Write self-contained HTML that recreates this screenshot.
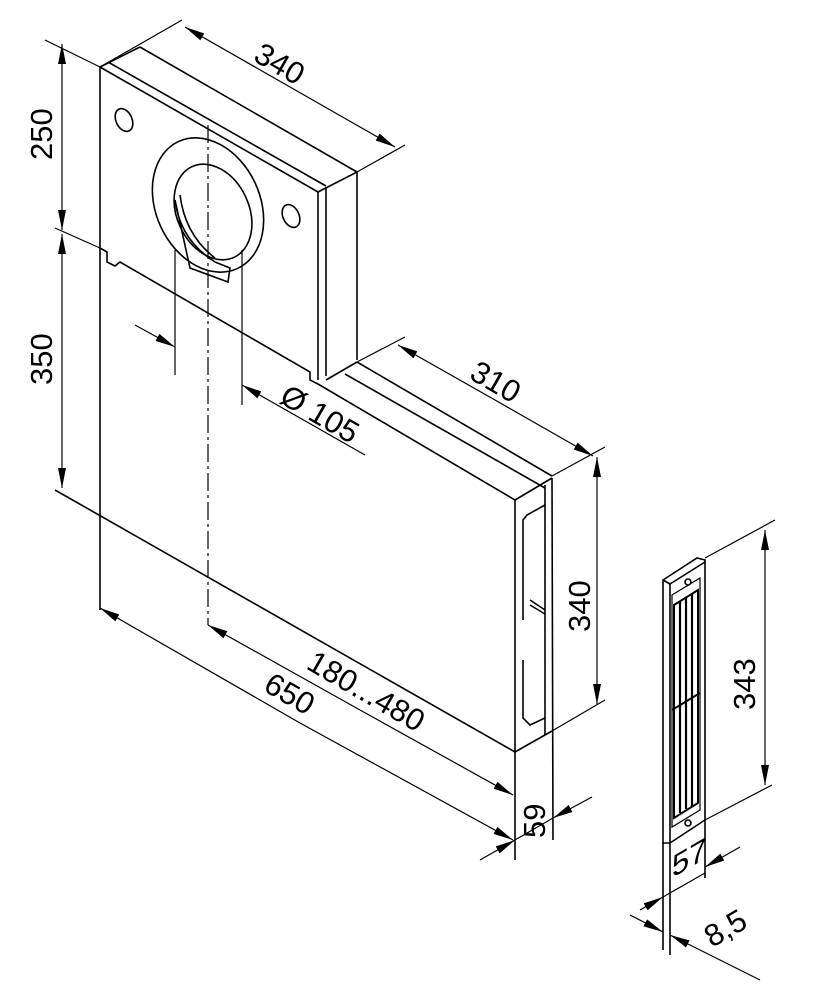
<!DOCTYPE html>
<html><head><meta charset="utf-8"><style>
html,body{margin:0;padding:0;background:#fff;}
svg{display:block;}
text{font-family:"Liberation Sans",sans-serif;font-size:31px;fill:#000;}
</style></head><body>
<svg width="830" height="1008" viewBox="0 0 830 1008" xmlns="http://www.w3.org/2000/svg">
<defs>
<marker id="a" viewBox="0 0 20 8" refX="20" refY="4" markerWidth="20" markerHeight="8" orient="auto" markerUnits="userSpaceOnUse"><path d="M0,0 L20,4 L0,8 Z" fill="#000"/></marker>
</defs>
<g stroke="#000" stroke-width="1.6" fill="none">
<line x1="100" y1="67" x2="100" y2="610"/>
<line x1="100" y1="67" x2="318" y2="192"/>
<line x1="108" y1="62" x2="326" y2="186"/>
<line x1="100" y1="67" x2="140" y2="47"/>
<line x1="140" y1="47" x2="357" y2="172"/>
<line x1="318" y1="192" x2="357" y2="172"/>
<line x1="318" y1="192" x2="318" y2="380"/>
<line x1="326" y1="187" x2="326" y2="376"/>
<line x1="357" y1="172" x2="357" y2="360"/>
<path d="M100,248 L107,252 L107,262 L115,266 L120,262 L310,372 L310,380 L318,384"/>
<line x1="318" y1="384" x2="515" y2="500"/>
<line x1="326" y1="380" x2="357" y2="362"/>
<line x1="345" y1="374" x2="545" y2="488"/>
<line x1="357" y1="362" x2="552" y2="476"/>
<line x1="515" y1="500" x2="552" y2="478"/>
<line x1="515" y1="500" x2="515" y2="860"/>
<line x1="552" y1="478" x2="553" y2="840"/>
<line x1="545" y1="485" x2="545" y2="735"/>
<line x1="515" y1="752" x2="552" y2="731"/>
<path d="M545,505 L527,515 L523,520 L523,620 M523,660 L523,718 L530,725 L545,718"/>
<path d="M530,600 L545,610 M530,605 L545,614"/>
<line x1="55" y1="490" x2="515" y2="752"/>
<ellipse cx="124" cy="120" rx="8" ry="12" transform="rotate(-25 124 120)"/>
<ellipse cx="291" cy="216" rx="8" ry="12" transform="rotate(-25 291 216)"/>
<ellipse cx="208" cy="205" rx="52" ry="70" transform="rotate(-25 208 205)"/>
<ellipse cx="213" cy="212" rx="36" ry="50" transform="rotate(-25 213 212)"/>
<path d="M175,200 Q180,240 215,262 L230,268 L228,282 L190,268 Z"/>
<path d="M180,195 Q185,235 215,258"/>
<line x1="208" y1="125" x2="208" y2="625" stroke-dasharray="18,4,3,4" stroke-width="1.2"/>
<line x1="175" y1="250" x2="175" y2="375" stroke-width="1.2"/>
<line x1="242" y1="250" x2="242" y2="405" stroke-width="1.2"/>
<line x1="135" y1="325" x2="175" y2="347" stroke-width="1.2" marker-end="url(#a)"/>
<line x1="365" y1="455" x2="242" y2="385" stroke-width="1.2" marker-end="url(#a)"/>
<g stroke-width="1.2">
<line x1="45" y1="40" x2="100" y2="67"/>
<line x1="55" y1="228" x2="100" y2="248"/>
<line x1="62" y1="140" x2="62" y2="44" marker-end="url(#a)"/>
<line x1="62" y1="140" x2="62" y2="230" marker-end="url(#a)"/>
<line x1="62" y1="360" x2="62" y2="234" marker-end="url(#a)"/>
<line x1="62" y1="360" x2="62" y2="488" marker-end="url(#a)"/>
<line x1="100" y1="67" x2="182" y2="20"/>
<line x1="357" y1="172" x2="405" y2="145"/>
<line x1="290" y1="87" x2="185" y2="27" marker-end="url(#a)"/>
<line x1="290" y1="87" x2="395" y2="147" marker-end="url(#a)"/>
<line x1="357" y1="362" x2="405" y2="337"/>
<line x1="552" y1="476" x2="605" y2="447"/>
<line x1="495" y1="400" x2="398" y2="345" marker-end="url(#a)"/>
<line x1="495" y1="400" x2="593" y2="456" marker-end="url(#a)"/>
<line x1="552" y1="731" x2="605" y2="700"/>
<line x1="597" y1="580" x2="597" y2="457" marker-end="url(#a)"/>
<line x1="597" y1="580" x2="597" y2="704" marker-end="url(#a)"/>
<line x1="480" y1="860" x2="515" y2="840" marker-end="url(#a)"/>
<line x1="515" y1="840" x2="553" y2="818"/>
<line x1="592" y1="797" x2="553" y2="818" marker-end="url(#a)"/>
<line x1="300" y1="723" x2="100" y2="608" marker-end="url(#a)"/>
<line x1="300" y1="723" x2="513" y2="840" marker-end="url(#a)"/>
<line x1="360" y1="710" x2="208" y2="625" marker-end="url(#a)"/>
<line x1="360" y1="710" x2="513" y2="795" marker-end="url(#a)"/>
</g>
<path d="M663,580 L697,558 L705,560 L705,820 L670,843 L663,843 Z"/>
<line x1="670" y1="584" x2="670" y2="843"/>
<line x1="663" y1="580" x2="670" y2="584"/>
<line x1="670" y1="584" x2="705" y2="562"/>
<line x1="663" y1="843" x2="663" y2="950"/>
<line x1="670" y1="843" x2="670" y2="955"/>
<line x1="705" y1="820" x2="705" y2="878"/>
<path d="M672,595 L700,578 L700,810 L672,827 Z" stroke-width="1.2"/>
<path d="M674,605 L698,590 L698,803 L674,818 Z" stroke-width="2"/>
<g stroke-width="2.2">
<line x1="680" y1="602" x2="680" y2="813"/><line x1="686" y1="598" x2="686" y2="809"/><line x1="692" y1="594" x2="692" y2="806"/>
</g>
<line x1="672" y1="710" x2="700" y2="693" stroke-width="2"/>
<circle cx="688" cy="582" r="3"/>
<circle cx="688" cy="823" r="3"/>
<g stroke-width="1.2">
<line x1="705" y1="558" x2="775" y2="520"/>
<line x1="705" y1="820" x2="772" y2="785"/>
<line x1="765" y1="660" x2="765" y2="530" marker-end="url(#a)"/>
<line x1="765" y1="660" x2="765" y2="785" marker-end="url(#a)"/>
<line x1="640" y1="910" x2="663" y2="897" marker-end="url(#a)"/>
<line x1="663" y1="897" x2="705" y2="873"/>
<line x1="740" y1="847" x2="705" y2="867" marker-end="url(#a)"/>
<line x1="630" y1="915" x2="663" y2="932" marker-end="url(#a)"/>
<line x1="760" y1="980" x2="670" y2="935" marker-end="url(#a)"/>
</g>
</g>
<g>
<text transform="translate(52,160) rotate(-90)">250</text>
<text transform="translate(52,385) rotate(-90)">350</text>
<text transform="translate(252,60) rotate(30)">340</text>
<text transform="translate(468,378) rotate(30)">310</text>
<text transform="translate(590,632) rotate(-90)">340</text>
<text transform="translate(545,838) rotate(-90)">59</text>
<text transform="translate(262,690) rotate(30)">650</text>
<text transform="translate(305,668) rotate(30)">180...480</text>
<text transform="translate(278,402) rotate(30)">Ø 105</text>
<text transform="translate(755,710) rotate(-90)">343</text>
<text transform="translate(672,878) skewY(-30)">57</text>
<text transform="translate(712,948) rotate(-30)">8,5</text>
</g>
</svg>
</body></html>
